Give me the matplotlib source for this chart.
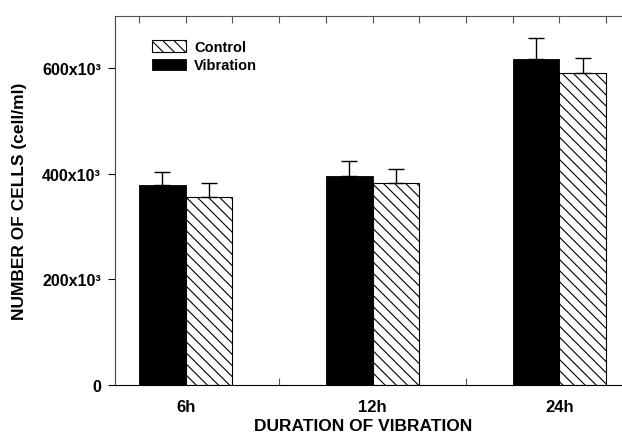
import numpy as np
import matplotlib
matplotlib.use("Agg")
import matplotlib.pyplot as plt

plt.rcParams['font.family'] = ['Liberation Sans', 'DejaVu Sans']
plt.rcParams['font.weight'] = 'bold'
plt.rcParams['hatch.linewidth'] = 0.8

# data
durations = ['6h', '12h', '24h']
vibration = [379e3, 396e3, 617e3]
vibration_err = [24e3, 28e3, 41e3]
control = [357e3, 383e3, 592e3]
control_err = [25e3, 26e3, 27e3]
y_ticks = [0, 200e3, 400e3, 600e3]
y_labels = ['0', '200x10³', '400x10³', '600x10³']

W, H = 622, 435
fig = plt.figure(figsize=(W / 100, H / 100), dpi=100)
# axes runs past the right edge of the canvas, as in the reference
ax = fig.add_axes([115 / W, (H - 386) / H, (630 - 115) / W, (386 - 16.7) / H])

x = np.arange(len(durations))
w = 0.25
zeros = np.zeros(len(x))

ax.bar(x - w / 2, vibration, w, color='black', edgecolor='black', linewidth=0.6,
       label='Vibration')
ax.bar(x + w / 2, control, w, color='white', edgecolor='black', linewidth=0.8,
       hatch='\\\\\\', label='Control')
ax.errorbar(x - w / 2, vibration, yerr=[zeros, vibration_err], fmt='none',
            ecolor='black', elinewidth=1, capsize=5.5, capthick=1)
ax.errorbar(x + w / 2, control, yerr=[zeros, control_err], fmt='none',
            ecolor='black', elinewidth=1, capsize=5.5, capthick=1)

ax.set_xlim(-0.378, len(x) - 1 + 0.378)
ax.set_ylim(0, 700e3)

ax.set_yticks(y_ticks)
ax.set_yticklabels(y_labels)
ax.tick_params(axis='y', direction='out', length=5, width=0.8, labelsize=11.5, pad=5)

ax.set_xticks(x)
ax.set_xticklabels(durations)
ax.set_xticks(x[:-1] + 0.5, minor=True)
ax.tick_params(axis='x', which='major', length=0, labelsize=12, pad=10)
ax.tick_params(axis='x', which='minor', direction='in', length=5, width=0.8,
               color='#555555')

top = ax.secondary_xaxis('top')
top.set_xticks(np.arange(-w, len(x) - 1 + 2 * w, w))
top.tick_params(direction='in', length=5, width=0.8, color='#555555',
                labeltop=False)
top.spines['top'].set_color('#555555')

ax.spines['left'].set_color('#444444')
ax.spines['top'].set_visible(False)

handles, labels = ax.get_legend_handles_labels()
ax.legend(handles[::-1], labels[::-1], loc='upper left',
          bbox_to_anchor=(152 / W, 1 - 41 / H), bbox_transform=fig.transFigure,
          frameon=False, fontsize=10.5, handlelength=2.3, handleheight=0.8,
          handletextpad=0.6, labelspacing=0.3, borderpad=0, borderaxespad=0)

fig.text(363 / W, 1 - 431 / H, 'DURATION OF VIBRATION', ha='center',
         va='baseline', fontsize=12.5, fontweight='bold')
fig.text(20 / W, 1 - 201 / H, 'NUMBER OF CELLS (cell/ml)', ha='center',
         va='center', rotation=90, fontsize=12.5, fontweight='bold')

fig.savefig('out.png', dpi=100)
